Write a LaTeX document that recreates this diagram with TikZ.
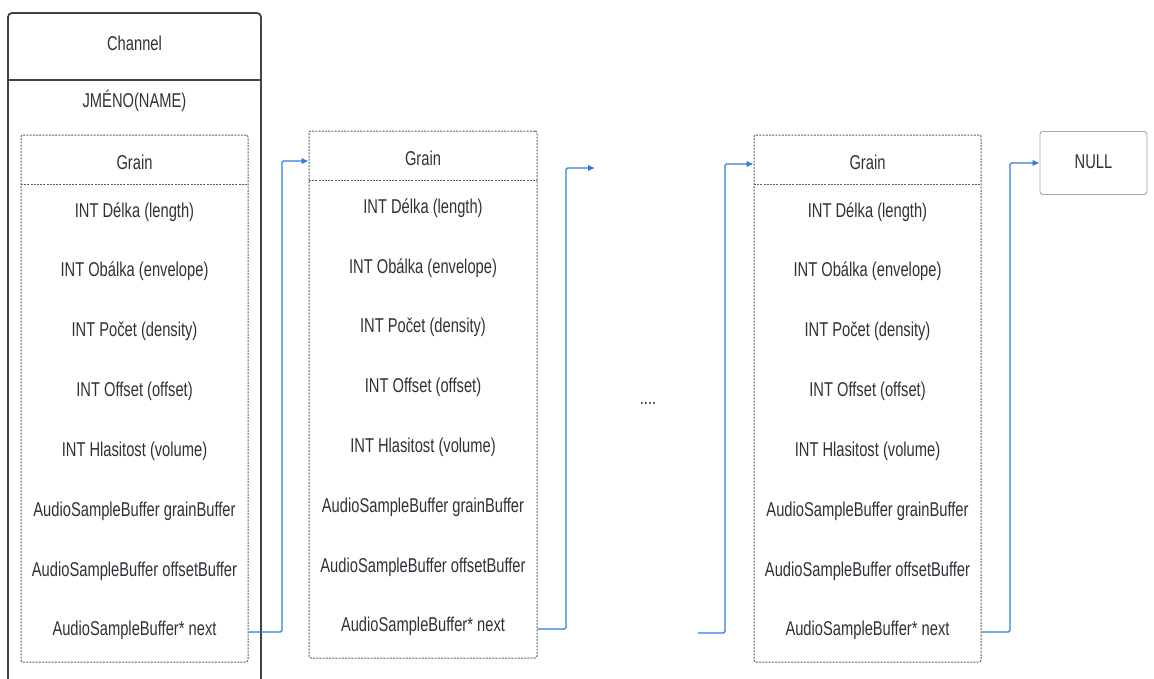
\documentclass[tikz,border=0pt]{standalone}
\usepackage{fontspec}
\setmainfont{Liberation Sans}[FakeStretch=0.735]
\usetikzlibrary{arrows.meta}
\definecolor{txt}{HTML}{2E3138}
\definecolor{chan}{HTML}{3D4350}
\definecolor{dash}{HTML}{5E5E5E}
\definecolor{link}{HTML}{2F7BE0}
\tikzset{
  lbl/.style={font=\fontsize{20}{22}\selectfont, text=txt, inner sep=0pt, anchor=center},
  grainbox/.style={draw=dash, line width=1pt, dash pattern=on 2pt off 1.2pt, rounded corners=2pt, inner sep=0pt},
  graindiv/.style={draw=dash, line width=1pt, dash pattern=on 2pt off 1.2pt},
  chanline/.style={draw=chan, line width=1.8pt},
  nullbox/.style={draw=gray!70, line width=0.9pt, rounded corners=3pt, inner sep=0pt, minimum width=107pt, minimum height=63pt},
  linkarrow/.style={draw=link, line width=1.1pt, rounded corners=1.5pt, -{Latex[length=7pt,width=6.5pt]}},
}
\begin{document}
\begin{tikzpicture}[x=1pt,y=-1pt]
\useasboundingbox (0,0) rectangle (1154,678);
% Channel
\draw[chanline, rounded corners=4pt] (8,679) -- (8,13) -- (261,13) -- (261,679);
\draw[chanline] (8,80) -- (261,80);
\node[lbl] (chtitle) at (134.5,43) {Channel};
\node[lbl] (chname) at (134.5,101) {JMÉNO(NAME)};
% Grain 1
\node[grainbox, minimum width=227pt, minimum height=527pt] (g1) at (134.5,398.5) {};
\draw[graindiv] (21,184) -- (248,184);
\node[lbl] (g1t) at (134.5,162) {Grain};
\node[lbl] (g1a) at (134.5,212) {INT Délka (length)};
\node[lbl] (g1b) at (134.5,271) {INT Obálka (envelope)};
\node[lbl] (g1c) at (134.5,331) {INT Počet (density)};
\node[lbl] (g1d) at (134.5,391) {INT Offset (offset)};
\node[lbl] (g1e) at (134.5,451) {INT Hlasitost (volume)};
\node[lbl] (g1f) at (134.5,511) {AudioSampleBuffer grainBuffer};
\node[lbl] (g1g) at (134.5,571) {AudioSampleBuffer offsetBuffer};
\node[lbl] (g1h) at (134.5,630) {AudioSampleBuffer* next};
% Grain 2
\node[grainbox, minimum width=228pt, minimum height=527pt] (g2) at (423,394.5) {};
\draw[graindiv] (309,180) -- (537,180);
\node[lbl] (g2t) at (423,158) {Grain};
\node[lbl] (g2a) at (423,208) {INT Délka (length)};
\node[lbl] (g2b) at (423,268) {INT Obálka (envelope)};
\node[lbl] (g2c) at (423,327) {INT Počet (density)};
\node[lbl] (g2d) at (423,387) {INT Offset (offset)};
\node[lbl] (g2e) at (423,447) {INT Hlasitost (volume)};
\node[lbl] (g2f) at (423,507) {AudioSampleBuffer grainBuffer};
\node[lbl] (g2g) at (423,567) {AudioSampleBuffer offsetBuffer};
\node[lbl] (g2h) at (423,626) {AudioSampleBuffer* next};
% Grain 3
\node[grainbox, minimum width=227pt, minimum height=527pt] (g3) at (867.5,398.5) {};
\draw[graindiv] (754,184) -- (981,184);
\node[lbl] (g3t) at (867.5,162) {Grain};
\node[lbl] (g3a) at (867.5,212) {INT Délka (length)};
\node[lbl] (g3b) at (867.5,271) {INT Obálka (envelope)};
\node[lbl] (g3c) at (867.5,331) {INT Počet (density)};
\node[lbl] (g3d) at (867.5,391) {INT Offset (offset)};
\node[lbl] (g3e) at (867.5,451) {INT Hlasitost (volume)};
\node[lbl] (g3f) at (867.5,511) {AudioSampleBuffer grainBuffer};
\node[lbl] (g3g) at (867.5,571) {AudioSampleBuffer offsetBuffer};
\node[lbl] (g3h) at (867.5,630) {AudioSampleBuffer* next};
% NULL
\node[nullbox] (null) at (1093.5,163) {};
\node[lbl] (nullt) at (1093.5,162) {NULL};
% dots
\node[lbl] (dots) at (648,403) {....};
% links
\coordinate (e2) at (595,168);
\coordinate (s3) at (698,633);
\draw[linkarrow] (g1.east |- 0,632) -- (282,632) -- (282,161) -- (g2.west |- 0,161);
\draw[linkarrow] (g2.east |- 0,629) -- (566,629) -- (566,168) -- (e2);
\draw[linkarrow] (s3) -- (725,633) -- (725,164) -- (g3.west |- 0,164);
\draw[linkarrow] (g3.east |- 0,632) -- (1010,632) -- (1010,163) -- (null.west |- 0,163);
\end{tikzpicture}
\end{document}
